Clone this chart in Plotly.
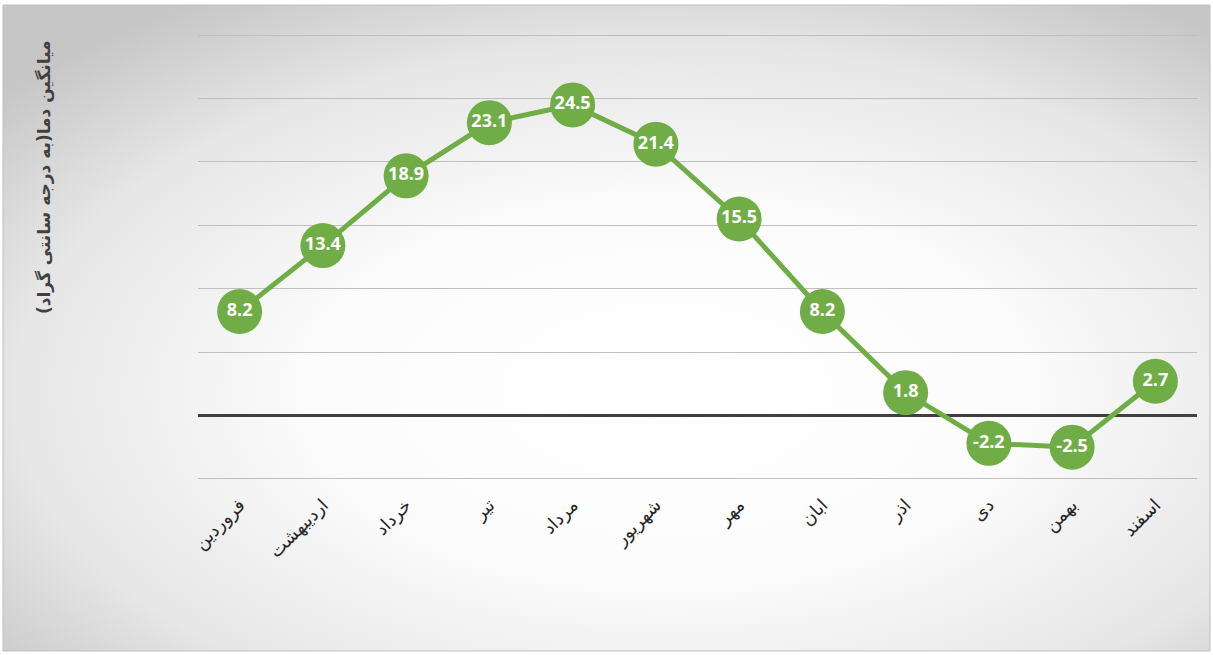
import plotly.graph_objects as go
import urllib.parse

months = ["فروردین", "اردیبهشت", "خرداد", "تیر", "مرداد", "شهریور",
          "مهر", "ابان", "اذر", "دی", "بهمن", "اسفند"]
temps = [8.2, 13.4, 18.9, 23.1, 24.5, 21.4, 15.5, 8.2, 1.8, -2.2, -2.5, 2.7]
y_title = "میانگین دما(به درجه سانتی گراد)"

W, H = 1213, 655
L, R, T, B = 198, 16, 32, 173
PW, PH = W - L - R, H - T - B

def px2paper_x(px):
    return (px - L) / PW

def px2paper_y(py):
    return 1 - (py - T) / PH

svg = (
    '<svg xmlns="http://www.w3.org/2000/svg" width="1200" height="640" viewBox="0 0 1200 640" preserveAspectRatio="none">'
    '<defs><radialGradient id="g" cx="0.55" cy="0.6" r="0.72" fx="0.55" fy="0.6">'
    '<stop offset="0" stop-color="#ffffff"/>'
    '<stop offset="0.4" stop-color="#fcfcfc"/>'
    '<stop offset="0.75" stop-color="#e6e6e6"/>'
    '<stop offset="1" stop-color="#c6c6c6"/>'
    '</radialGradient></defs>'
    '<rect width="1200" height="640" fill="url(#g)"/></svg>'
)
src = "data:image/svg+xml;charset=utf-8," + urllib.parse.quote(svg)

x0, x1, y0, y1 = 3, 1210, 5, 651

fig = go.Figure()
fig.add_trace(go.Scatter(
    x=months, y=temps,
    mode="lines+markers+text",
    line=dict(color="#70AD47", width=5),
    marker=dict(size=45, color="#70AD47"),
    text=[f"{v:.1f}" for v in temps],
    textposition="middle center",
    textfont=dict(color="white", size=18, family="Open Sans", weight="bold"),
    cliponaxis=False,
    hoverinfo="skip",
))

fig.update_layout(
    width=W, height=H,
    margin=dict(l=L, r=R, t=T, b=B),
    paper_bgcolor="white",
    plot_bgcolor="rgba(0,0,0,0)",
    showlegend=False,
    xaxis=dict(
        range=[-0.5, 11.5], tickangle=-45, showgrid=False, zeroline=False,
        showline=False, ticks="", ticklabelstandoff=8,
        tickfont=dict(family="DejaVu Sans", size=18, color="#262626"),
    ),
    yaxis=dict(
        range=[-5.25, 30.25], tick0=0, dtick=5, showticklabels=False, ticks="",
        showgrid=True, gridcolor="#bfbfbf", gridwidth=1,
        zeroline=True, zerolinecolor="#404040", zerolinewidth=3,
        showline=False,
    ),
    images=[dict(
        source=src, xref="paper", yref="paper",
        x=px2paper_x(x0), y=px2paper_y(y0),
        sizex=(x1 - x0) / PW, sizey=(y1 - y0) / PH,
        xanchor="left", yanchor="top", sizing="stretch", layer="below",
    )],
    shapes=[dict(
        type="rect", xref="paper", yref="paper",
        x0=px2paper_x(x0), x1=px2paper_x(x1), y0=px2paper_y(y1), y1=px2paper_y(y0),
        line=dict(color="#bfbfbf", width=1), layer="below",
    )],
    annotations=[dict(
        text=y_title, textangle=-90, xref="paper", yref="paper",
        x=px2paper_x(45), y=px2paper_y(177), xanchor="center", yanchor="middle",
        showarrow=False,
        font=dict(family="DejaVu Sans", size=17, color="#404040", weight="bold"),
    )],
)

fig.write_html("out.html", config={"displayModeBar": False},
               post_script="document.body.style.margin='0';")
